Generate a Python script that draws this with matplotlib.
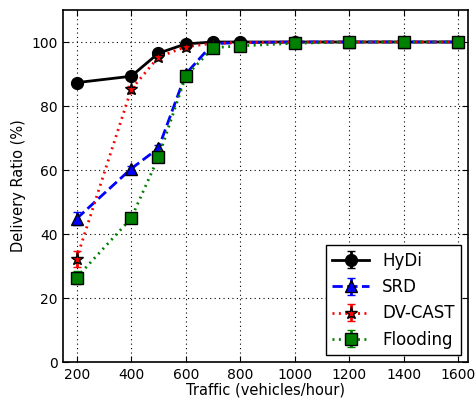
import matplotlib
matplotlib.use("Agg")
import matplotlib.pyplot as plt

traffic = [200, 400, 500, 600, 700, 800, 1000, 1200, 1400, 1600]
hydi = [87.3, 89.3, 96.5, 99.4, 100, 100, 100, 100, 100, 100]
hydi_err = [0.5, 0.5, 0.5, 0.3, 0.2, 0.2, 0.2, 0.2, 0.2, 0.2]
srd = [44.8, 60.4, 66.8, 90.0, 99.5, 99.8, 100, 100, 100, 100]
srd_err = [2.0, 1.0, 1.0, 0.8, 0.4, 0.3, 0.2, 0.2, 0.2, 0.2]
dvcast = [32.3, 85.2, 95.3, 98.5, 99.6, 99.8, 100, 100, 100, 100]
dvcast_err = [2.5, 1.2, 0.8, 0.5, 0.3, 0.2, 0.2, 0.2, 0.2, 0.2]
flooding = [26.4, 44.9, 64.0, 89.3, 98.2, 98.8, 99.6, 100, 100, 100]
flooding_err = [2.0, 1.0, 1.0, 0.8, 0.4, 0.3, 0.2, 0.2, 0.2, 0.2]

fig = plt.figure(figsize=(4.77, 3.99), dpi=100)
ax = fig.add_axes([63/477, 37/399, 405/477, 352/399])

ax.errorbar(traffic, hydi, yerr=hydi_err, color='black', ls='-', lw=2,
            marker='o', ms=8.5, mfc='black', mec='black', capsize=3, label='HyDi')
ax.errorbar(traffic, srd, yerr=srd_err, color='blue', ls='--', lw=2,
            marker='^', ms=8.5, mfc='blue', mec='black', capsize=3, label='SRD')
ax.errorbar(traffic, dvcast, yerr=dvcast_err, color='red', ls=(0, (0.7, 1.6)), lw=2,
            marker='*', ms=9.5, mfc='red', mec='black', capsize=3, label='DV-CAST')
ax.errorbar(traffic, flooding, yerr=flooding_err, color='green', ls=(0, (0.7, 1.6)), lw=2,
            marker='s', ms=8.5, mfc='green', mec='black', capsize=3, label='Flooding')

ax.set_xlim(150, 1635)
ax.set_ylim(0, 110)
ax.set_xticks([200, 400, 600, 800, 1000, 1200, 1400, 1600])
ax.set_yticks([0, 20, 40, 60, 80, 100])
ax.tick_params(direction='in', top=True, right=True, labelsize=10, length=4, pad=4)
ax.grid(True, color='black', ls=(0, (1, 3)), lw=0.8)
ax.set_xlabel('Traffic (vehicles/hour)', fontsize=10.5, labelpad=1)
ax.set_ylabel('Delivery Ratio (%)', fontsize=10.5, labelpad=4)
for s in ax.spines.values():
    s.set_linewidth(1.2)

leg = ax.legend(loc='lower right', fontsize=12, fancybox=False, framealpha=1,
                edgecolor='black', handlelength=2.2, borderaxespad=0.4)
leg.get_frame().set_linewidth(1.0)

fig.savefig('out.png', dpi=100)
